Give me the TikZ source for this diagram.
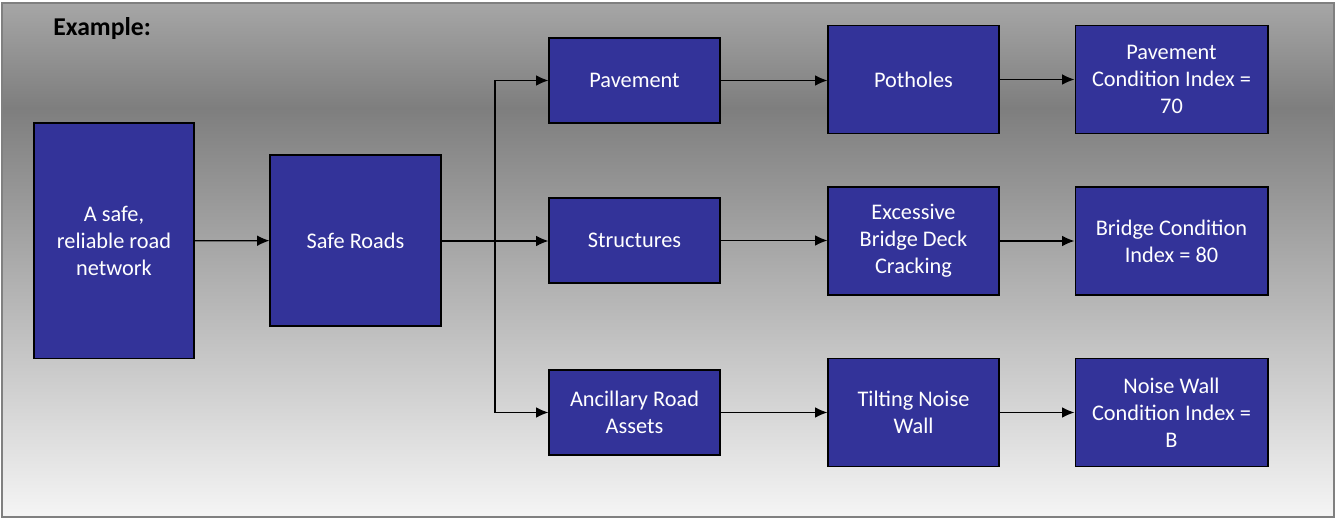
\documentclass[tikz,border=0pt]{standalone}
\usepackage{fontspec}
\setmainfont{Carlito}
\usetikzlibrary{arrows.meta}
\definecolor{boxblue}{HTML}{333399}
\definecolor{bandtop}{HTML}{A6A6A6}
\definecolor{bandmid}{HTML}{7E7E7E}
\definecolor{bandlow}{HTML}{F5F5F5}

\begin{document}
\begin{tikzpicture}[x=0.02cm,y=-0.02cm,
    box/.style={draw=black,line width=0.6pt,fill=boxblue,text=white,align=center,
        inner sep=0pt,font=\fontsize{12.7}{15.4}\selectfont},
    link/.style={-{Latex[length=7pt,width=6pt]},line width=0.7pt}]
    \useasboundingbox (0,0) rectangle (1336,519);
    \fill[white] (0,0) rectangle (1336,519); % page
    \shade[top color=bandtop,bottom color=bandmid] (2,3) rectangle (1334,108); % upper band
    \shade[top color=bandmid,bottom color=bandlow] (2,108) rectangle (1334,517); % lower band
    \draw[gray,line width=0.8pt] (2,3) rectangle (1334,517); % frame
    \node[anchor=base west,inner sep=0pt,font=\bfseries\fontsize{14.6}{17}\selectfont] (title) at (53,36) {Example:};

    % goal and objective
    \node[box,minimum width=3.2cm,minimum height=4.72cm] (network) at (114,241) {A safe,\\reliable road\\network};
    \node[box,minimum width=3.42cm,minimum height=3.42cm] (safe) at (355.5,240.5) {Safe Roads};

    % asset groups
    \node[box,minimum width=3.42cm,minimum height=1.7cm] (pavement) at (634.5,80.5) {Pavement};
    \node[box,minimum width=3.42cm,minimum height=1.7cm] (structures) at (634.5,240.5) {Structures};
    \node[box,minimum width=3.42cm,minimum height=1.7cm] (ancillary) at (634.5,412.5) {Ancillary Road\\Assets};

    % problems
    \node[box,minimum width=3.42cm,minimum height=2.16cm] (potholes) at (913.5,79.5) {Potholes};
    \node[box,minimum width=3.42cm,minimum height=2.16cm] (cracking) at (913.5,241) {Excessive\\Bridge Deck\\Cracking};
    \node[box,minimum width=3.42cm,minimum height=2.16cm] (tilting) at (913.5,412.5) {Tilting Noise\\Wall};

    % condition indices
    \node[box,minimum width=3.86cm,minimum height=2.16cm] (pci) at (1171.5,79.5) {Pavement\\Condition Index =\\70};
    \node[box,minimum width=3.86cm,minimum height=2.16cm] (bci) at (1171.5,241) {Bridge Condition\\Index = 80};
    \node[box,minimum width=3.86cm,minimum height=2.16cm] (nci) at (1171.5,412.5) {Noise Wall\\Condition Index =\\B};

    \coordinate (split) at (495,241);
    \draw[link] (network) -- (safe);
    \draw[line width=0.7pt] (safe.east |- split) -- (split);
    \draw[link] (split) |- (pavement);
    \draw[link] (split) -- (structures.west |- split);
    \draw[link] (split) |- (ancillary);
    \draw[link] (pavement) -- (potholes.west |- pavement);
    \draw[link] (structures) -- (cracking.west |- structures);
    \draw[link] (ancillary) -- (tilting);
    \draw[link] (potholes) -- (pci);
    \draw[link] (cracking) -- (bci);
    \draw[link] (tilting) -- (nci);
\end{tikzpicture}
\end{document}
